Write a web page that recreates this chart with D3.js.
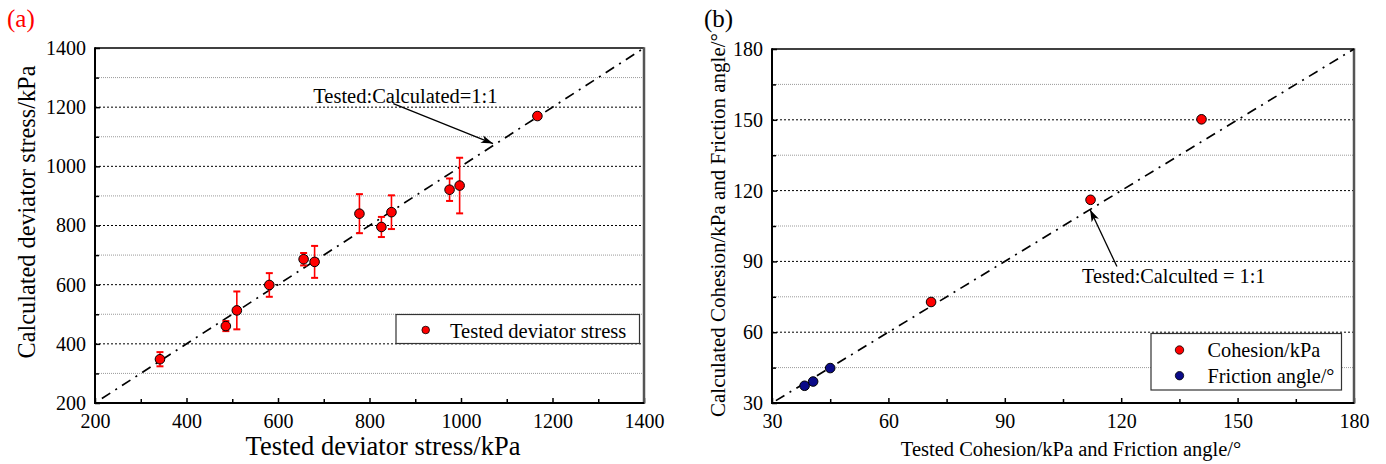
<!DOCTYPE html>
<html>
<head>
<meta charset="utf-8">
<script src="https://cdn.jsdelivr.net/npm/d3@7"></script>
<style>
  body { margin: 0; background: #fff; }
  text { font-family: "Liberation Serif", "Times New Roman", serif; fill: #000; }
</style>
</head>
<body>
<svg id="fig" width="1386" height="464"></svg>
<script>
// ---- Panel (a): deviator stress, tested vs calculated (kPa) ----
const testedStress = [342, 486, 510, 581, 656, 680, 778, 826, 848, 975, 997, 1167];
const calcStress   = [348, 460, 513, 599, 686, 677, 840, 795, 845, 921, 935, 1170];
const stressErr    = [24, 17, 64, 40, 21, 54, 66, 34, 57, 38, 94, 10];
const stressTicks  = [200, 400, 600, 800, 1000, 1200, 1400];
const stressMinor  = [300, 500, 700, 900, 1100, 1300];

// ---- Panel (b): shear strength parameters ----
const cohesionTested = [71.0, 112.1, 140.7];
const cohesionCalc   = [72.8, 116.1, 150.2];
const frictionTested = [38.4, 40.6, 45.0];
const frictionCalc   = [37.3, 39.1, 44.8];
const strengthTicks  = [30, 60, 90, 120, 150, 180];
const strengthMinor  = [45, 75, 105, 135, 165];

const SERIF = '"Liberation Serif", "Times New Roman", serif';
const svg = d3.select("#fig");
svg.append("rect").attr("width", 1386).attr("height", 464).attr("fill", "#fff");

const defs = svg.append("defs");
defs.append("marker")
  .attr("id", "arrowHead")
  .attr("viewBox", "0 0 12 8")
  .attr("refX", 12).attr("refY", 4)
  .attr("markerWidth", 12).attr("markerHeight", 8)
  .attr("markerUnits", "userSpaceOnUse")
  .attr("orient", "auto")
  .append("path").attr("d", "M0,0 L12,4 L0,8 L3,4 Z").attr("fill", "#000");

function drawFrame(g, x, y, major, minor, tickFont) {
  const [x0, x1] = x.range();
  const [y0, y1] = y.range(); // y0 bottom, y1 top
  const fmt = d3.format("d");

  // horizontal grid lines
  g.append("g").selectAll("line").data(minor).join("line")
    .attr("x1", x0).attr("x2", x1)
    .attr("y1", d => y(d)).attr("y2", d => y(d))
    .attr("stroke", "#9a9a9a").attr("stroke-width", 1)
    .attr("stroke-dasharray", "1,1");
  g.append("g").selectAll("line").data(major.slice(1, -1)).join("line")
    .attr("x1", x0).attr("x2", x1)
    .attr("y1", d => y(d)).attr("y2", d => y(d))
    .attr("stroke", "#000").attr("stroke-width", 1)
    .attr("stroke-dasharray", "2,2");

  // axes with inward ticks
  const bx = g.append("g").attr("transform", `translate(0,${y0})`)
    .call(d3.axisBottom(x).tickValues(major).tickFormat(fmt).tickSize(-5).tickPadding(11));
  const bxm = g.append("g").attr("transform", `translate(0,${y0})`)
    .call(d3.axisBottom(x).tickValues(minor).tickSize(-4).tickFormat(""));
  const ly = g.append("g").attr("transform", `translate(${x0},0)`)
    .call(d3.axisLeft(y).tickValues(major).tickFormat(fmt).tickSize(-5).tickPadding(9));
  const lym = g.append("g").attr("transform", `translate(${x0},0)`)
    .call(d3.axisLeft(y).tickValues(minor).tickSize(-4).tickFormat(""));
  [bx, bxm, ly, lym].forEach(a => {
    a.attr("font-family", SERIF).attr("font-size", tickFont);
    a.select(".domain").remove();
    a.selectAll(".tick line").attr("stroke", "#000").attr("stroke-width", 1.5);
    a.selectAll(".tick text").style("font-size", tickFont + "px")
      .style("font-family", SERIF).attr("fill", "#000");
  });

  // plot frame
  g.append("line").attr("x1", x0).attr("x2", x1).attr("y1", y1).attr("y2", y1)
    .attr("stroke", "#000").attr("stroke-width", 1.5);
  g.append("line").attr("x1", x1).attr("x2", x1).attr("y1", y1 - 0.75).attr("y2", y0 + 1)
    .attr("stroke", "#555").attr("stroke-width", 2.5);
  g.append("line").attr("x1", x0).attr("x2", x1).attr("y1", y0).attr("y2", y0)
    .attr("stroke", "#000").attr("stroke-width", 2);
  g.append("line").attr("x1", x0).attr("x2", x0).attr("y1", y1 - 0.75).attr("y2", y0 + 1)
    .attr("stroke", "#000").attr("stroke-width", 2);
}

function oneToOne(g, x, y, from, to) {
  g.append("line")
    .attr("x1", x(from)).attr("y1", y(from))
    .attr("x2", x(to)).attr("y2", y(to))
    .attr("stroke", "#000").attr("stroke-width", 1.7)
    .attr("stroke-dasharray", "10,6,2,6");
}

// ================= Panel (a) =================
{
  const g = svg.append("g");
  const x = d3.scaleLinear().domain([200, 1400]).range([95, 644]);
  const y = d3.scaleLinear().domain([200, 1400]).range([403, 48]);
  drawFrame(g, x, y, stressTicks, stressMinor, 20);
  oneToOne(g, x, y, 215, 1400);

  const pts = testedStress.map((t, i) => ({ t, c: calcStress[i], e: stressErr[i] }));
  const eb = g.append("g").attr("stroke", "#ff0000").attr("stroke-width", 1.6);
  eb.selectAll("line.v").data(pts).join("line").attr("class", "v")
    .attr("x1", d => x(d.t)).attr("x2", d => x(d.t))
    .attr("y1", d => y(d.c + d.e)).attr("y2", d => y(d.c - d.e));
  eb.selectAll("line.top").data(pts).join("line").attr("class", "top")
    .attr("x1", d => x(d.t) - 3.5).attr("x2", d => x(d.t) + 3.5)
    .attr("y1", d => y(d.c + d.e)).attr("y2", d => y(d.c + d.e)).attr("stroke-width", 2);
  eb.selectAll("line.bot").data(pts).join("line").attr("class", "bot")
    .attr("x1", d => x(d.t) - 3.5).attr("x2", d => x(d.t) + 3.5)
    .attr("y1", d => y(d.c - d.e)).attr("y2", d => y(d.c - d.e)).attr("stroke-width", 2);

  g.append("g").selectAll("circle").data(pts).join("circle")
    .attr("cx", d => x(d.t)).attr("cy", d => y(d.c)).attr("r", 4.8)
    .attr("fill", "#ff0000").attr("stroke", "#000").attr("stroke-width", 1);

  // 1:1 annotation
  g.append("text").attr("x", x(677)).attr("y", y(1215))
    .style("font-size", "20.5px").text("Tested:Calculated=1:1");
  g.append("line").attr("x1", x(852)).attr("y1", y(1212))
    .attr("x2", x(1070)).attr("y2", y(1077))
    .attr("stroke", "#000").attr("stroke-width", 1.3)
    .attr("marker-end", "url(#arrowHead)");

  // legend
  g.append("rect").attr("x", 396).attr("y", 314.5).attr("width", 243.5).attr("height", 29)
    .attr("fill", "#fff").attr("stroke", "#333").attr("stroke-width", 1.2);
  g.append("circle").attr("cx", 425.7).attr("cy", 330).attr("r", 3.8)
    .attr("fill", "#ff0000").attr("stroke", "#000").attr("stroke-width", 0.8);
  g.append("text").attr("x", 450).attr("y", 337.5).style("font-size", "20.5px")
    .text("Tested deviator stress");

  // axis titles
  g.append("text").attr("x", 383).attr("y", 455).attr("text-anchor", "middle")
    .style("font-size", "26.5px").text("Tested deviator stress/kPa");
  g.append("text").attr("transform", "translate(35,212) rotate(-90)")
    .attr("text-anchor", "middle").style("font-size", "24.3px")
    .text("Calculated deviator stress/kPa");

  svg.append("text").attr("x", 7).attr("y", 27).style("font-size", "25px")
    .style("fill", "#ff0000").text("(a)");
}

// ================= Panel (b) =================
{
  const g = svg.append("g");
  const x = d3.scaleLinear().domain([30, 180]).range([772, 1354]);
  const y = d3.scaleLinear().domain([30, 180]).range([403, 49]);
  drawFrame(g, x, y, strengthTicks, strengthMinor, 20);
  oneToOne(g, x, y, 31, 180);

  const series = [
    { name: "Cohesion/kPa", color: "#ff0000", tx: cohesionTested, cy: cohesionCalc },
    { name: "Friction angle/\u00B0", color: "#0b0b88", tx: frictionTested, cy: frictionCalc }
  ];
  series.forEach(s => {
    g.append("g").selectAll("circle").data(s.tx.map((v, i) => [v, s.cy[i]])).join("circle")
      .attr("cx", d => x(d[0])).attr("cy", d => y(d[1])).attr("r", 4.8)
      .attr("fill", s.color).attr("stroke", "#000").attr("stroke-width", 1);
  });

  // 1:1 annotation
  g.append("text").attr("x", x(109.9)).attr("y", y(81))
    .style("font-size", "20.3px").text("Tested:Calculted = 1:1");
  g.append("line").attr("x1", x(118.9)).attr("y1", y(87.8))
    .attr("x2", x(112)).attr("y2", y(111.9))
    .attr("stroke", "#000").attr("stroke-width", 1.3)
    .attr("marker-end", "url(#arrowHead)");

  // legend
  g.append("rect").attr("x", 1151).attr("y", 333.5).attr("width", 190.5).attr("height", 56.5)
    .attr("fill", "#fff").attr("stroke", "#333").attr("stroke-width", 1.2);
  series.forEach((s, i) => {
    const cy = 350 + i * 25.7;
    g.append("circle").attr("cx", 1179.5).attr("cy", cy).attr("r", 4.2)
      .attr("fill", s.color).attr("stroke", "#000").attr("stroke-width", 0.8);
    g.append("text").attr("x", 1207.5).attr("y", cy + 7).style("font-size", "20.3px")
      .text(s.name);
  });

  // axis titles
  g.append("text").attr("x", 1071).attr("y", 456).attr("text-anchor", "middle")
    .style("font-size", "20.5px").text("Tested Cohesion/kPa and Friction angle/\u00B0");
  g.append("text").attr("transform", "translate(725,225) rotate(-90)")
    .attr("text-anchor", "middle").style("font-size", "21px")
    .text("Calculated Cohesion/kPa and Friction angle/\u00B0");

  svg.append("text").attr("x", 704).attr("y", 27).style("font-size", "25px").text("(b)");
}
</script>
</body>
</html>
